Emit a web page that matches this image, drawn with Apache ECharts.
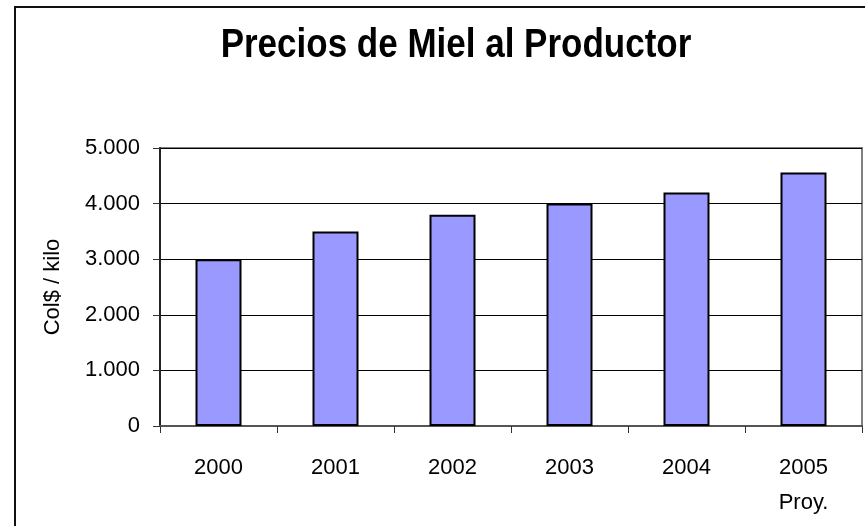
<!DOCTYPE html>
<html>
<head>
<meta charset="utf-8">
<script src="https://cdn.jsdelivr.net/npm/echarts@6/dist/echarts.min.js"></script>
<style>
  html, body { margin: 0; padding: 0; background: #fff; }
  #chart { width: 865px; height: 526px; }
</style>
</head>
<body>
<div id="chart"></div>
<script>
// datos del grafico
const years = ['2000', '2001', '2002', '2003', '2004', '2005\nProy.']
const prices = [3000, 3500, 3800, 4000, 4200, 4560]
const yTicks = [0, 1000, 2000, 3000, 4000, 5000]

const font = '"Liberation Sans", Arial, sans-serif'

// formato con punto de miles: 5000 -> 5.000
const fmtMiles = v => String(v).replace(/\B(?=(\d{3})+(?!\d))/g, '.')

const chart = echarts.init(document.getElementById('chart'))

chart.setOption({
  animation: false,
  backgroundColor: '#fff',
  graphic: [
    {
      // marco exterior
      type: 'rect',
      shape: { x: 15, y: 7, width: 900, height: 600 },
      style: { fill: 'none', stroke: '#111', lineWidth: 2 },
      silent: true
    },
    {
      // titulo, un poco estirado en vertical como el original
      type: 'text',
      x: 456,
      y: 46,
      scaleY: 1.18,
      style: {
        text: 'Precios de Miel al Productor',
        font: 'bold 35px "Liberation Sans", Arial, sans-serif',
        fill: '#000',
        align: 'center',
        verticalAlign: 'middle'
      },
      silent: true
    }
  ],
  grid: {
    left: 160,
    right: 3,
    top: 148,
    bottom: 100,
    show: true,
    borderColor: '#808080',
    borderWidth: 2
  },
  xAxis: {
    type: 'category',
    data: years,
    axisLine: { lineStyle: { color: '#555', width: 2 } },
    axisTick: { show: true, length: 7, lineStyle: { color: '#333', width: 1 } },
    axisLabel: {
      margin: 24,
      fontFamily: font,
      fontSize: 22,
      lineHeight: 35,
      color: '#000'
    }
  },
  yAxis: {
    type: 'value',
    min: yTicks[0],
    max: yTicks[yTicks.length - 1],
    interval: 1000,
    name: 'Col$ / kilo',
    nameLocation: 'middle',
    nameGap: 96,
    nameTextStyle: { fontFamily: font, fontSize: 22, color: '#000' },
    axisLine: { show: true, lineStyle: { color: '#222', width: 2 } },
    axisTick: { show: true, length: 7, lineStyle: { color: '#333' } },
    axisLabel: {
      margin: 20,
      fontFamily: font,
      fontSize: 22,
      color: '#000',
      formatter: fmtMiles
    },
    splitLine: { lineStyle: { color: '#000', width: 1 } }
  },
  series: [
    {
      type: 'bar',
      data: prices,
      barWidth: 46,
      itemStyle: { color: '#9999FF', borderColor: '#000', borderWidth: 2 }
    }
  ]
})
</script>
</body>
</html>
